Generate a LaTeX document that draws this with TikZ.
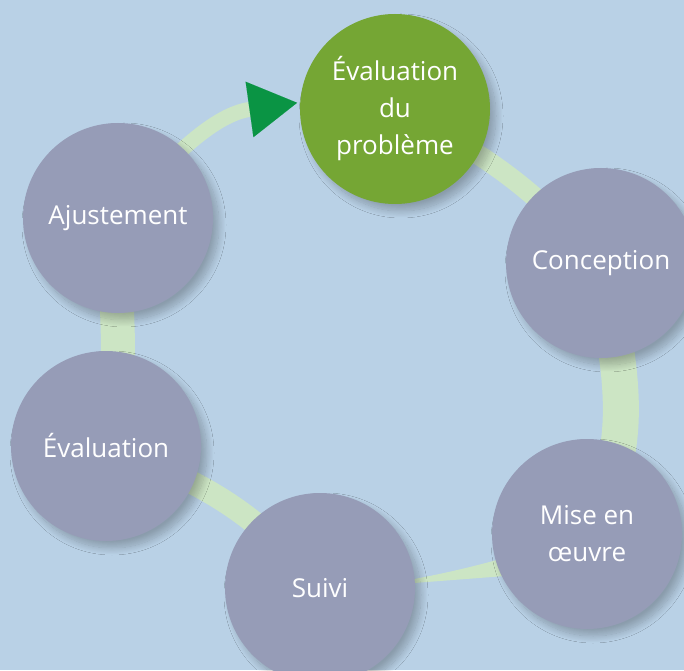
\documentclass[tikz,border=0pt]{standalone}
\usepackage{fontspec}
\setmainfont{Open Sans}
\usetikzlibrary{positioning,arrows.meta,shadows.blur}
\definecolor{bgblue}{HTML}{B9D1E6}
\definecolor{stepgray}{HTML}{969CB7}
\definecolor{stepgreen}{HTML}{75A634}
\definecolor{ringgreen}{HTML}{CCE5C4}
\definecolor{tipgreen}{HTML}{0A9444}
\pgfdeclarelayer{ringlayer}
\pgfsetlayers{ringlayer,main}

\begin{document}
\begin{tikzpicture}[x=1pt,y=1pt,
    phase/.style={circle,fill=stepgray,minimum size=190pt,inner sep=0pt,
      align=center,text=white,font=\fontsize{26}{37}\selectfont,
      blur shadow={shadow xshift=6pt,shadow yshift=-7pt,shadow blur radius=7pt,
        shadow blur steps=14,shadow opacity=25}},
    ring/.style={draw=ringgreen,line cap=butt}]
    \useasboundingbox (0,0) rectangle (684,670);
    % steps of the cycle
    \node[phase,fill=stepgreen] (prob) at (395,561) {Évaluation\\du\\problème};
    \node[phase] (conc) at (601,407) {Conception};
    \node[phase] (mise) at (587,136) {Mise en\\œuvre};
    \node[phase] (suivi) at (320,82) {Suivi};
    \node[phase] (evalu) at (106,224) {Évaluation};
    \node[phase] (ajust) at (118,452) {Ajustement};
    \begin{pgfonlayer}{ringlayer}
        \fill[bgblue] (0,0) rectangle (684,670);
        % ring behind the steps
        \draw[ring,line width=20pt] (prob.center) to[bend left=11] (conc.center);
        \draw[ring,line width=36pt] (conc.center) to[out=-80,in=60] (mise.center);
        \fill[ringgreen] ([shift={(55,2)}]suivi.center) -- ([shift={(-30,-38)}]mise.center)
            -- ([shift={(-30,-8)}]mise.center) to[bend left=4] cycle;
        \draw[ring,line width=23pt] (suivi.center) to[out=130,in=-20] (evalu.center);
        \draw[ring,line width=34pt] (evalu.center) to[out=75,in=-95] (ajust.center);
        \draw[ring,line width=15pt,shorten >=3pt,
            -{Triangle[length=48pt,width=56pt,line width=0.01pt,color=tipgreen]}]
            (ajust.center) to[out=50,in=188] (prob.176);
    \end{pgfonlayer}
\end{tikzpicture}
\end{document}
